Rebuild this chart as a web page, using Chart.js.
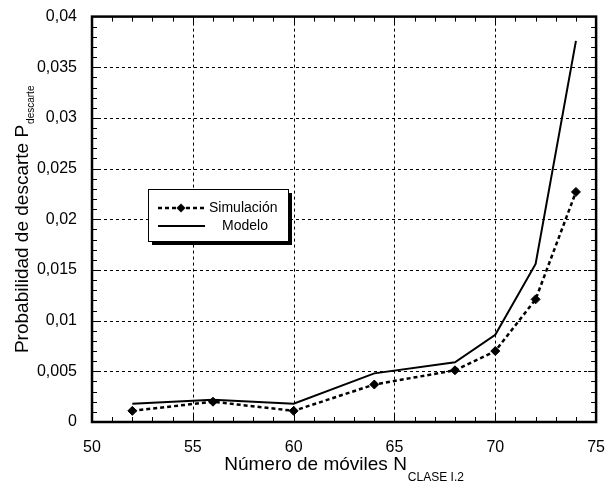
<!DOCTYPE html>
<html>
<head>
<meta charset="utf-8">
<script src="https://cdn.jsdelivr.net/npm/chart.js@4"></script>
<style>
  html, body { margin: 0; padding: 0; background: #fff; }
  #wrap { width: 613px; height: 485px; }
</style>
</head>
<body>
<div id="wrap"><canvas id="chart" width="613" height="485"></canvas></div>
<script>
const moviles = [52, 56, 60, 64, 68, 70, 72, 74];
const simulacion = [0.0011, 0.0020, 0.0011, 0.0037, 0.0051, 0.0070, 0.0121, 0.0227];
const modelo = [0.0018, 0.0022, 0.0018, 0.0048, 0.0059, 0.0086, 0.0156, 0.0376];
const seriesNames = ['Simulación', 'Modelo'];
const xTitle = ['Número de móviles N', 'CLASE I.2'];
const yTitle = ['Probabilidad de descarte P', 'descarte'];

const FONT = '"Liberation Sans", Arial, sans-serif';
const fmt = v => parseFloat(v.toFixed(3)).toString().replace('.', ',');

// frame, dashed grid and inward ticks on all four sides
const framePlugin = {
  id: 'frame',
  beforeDatasetsDraw(chart) {
    const { ctx, chartArea: a, scales: { x, y } } = chart;
    ctx.save();
    ctx.strokeStyle = '#000';
    ctx.lineWidth = 1;
    ctx.setLineDash([3, 3]);
    for (let v = 55; v < 75; v += 5) {
      const px = Math.round(x.getPixelForValue(v)) + 0.5;
      ctx.beginPath(); ctx.moveTo(px, a.top); ctx.lineTo(px, a.bottom); ctx.stroke();
    }
    for (let i = 1; i < 8; i++) {
      const py = Math.round(y.getPixelForValue(i * 0.005)) + 0.5;
      ctx.beginPath(); ctx.moveTo(a.left, py); ctx.lineTo(a.right, py); ctx.stroke();
    }
    ctx.setLineDash([]);
    ctx.lineWidth = 1;
    for (let v = 51; v < 75; v++) {
      const px = Math.round(x.getPixelForValue(v)) + 0.5;
      const len = v % 5 === 0 ? 8 : 5;
      ctx.beginPath();
      ctx.moveTo(px, a.bottom); ctx.lineTo(px, a.bottom - len);
      ctx.moveTo(px, a.top); ctx.lineTo(px, a.top + len);
      ctx.stroke();
    }
    for (let i = 1; i < 40; i++) {
      const py = Math.round(y.getPixelForValue(i * 0.001)) + 0.5;
      const len = i % 5 === 0 ? 8 : 5;
      ctx.beginPath();
      ctx.moveTo(a.left, py); ctx.lineTo(a.left + len, py);
      ctx.moveTo(a.right, py); ctx.lineTo(a.right - len, py);
      ctx.stroke();
    }
    ctx.restore();
  },
  afterDatasetsDraw(chart) {
    const { ctx, chartArea: a } = chart;
    ctx.save();
    ctx.strokeStyle = '#000';
    ctx.lineWidth = 2.5;
    ctx.strokeRect(a.left, a.top, a.right - a.left, a.bottom - a.top);
    ctx.restore();
  }
};

// axis titles with subscripts and the boxed legend
const textPlugin = {
  id: 'texts',
  afterDraw(chart) {
    const { ctx, chartArea: a } = chart;
    ctx.save();
    ctx.fillStyle = '#000';
    ctx.textBaseline = 'alphabetic';
    ctx.textAlign = 'left';

    // x title
    ctx.font = '19px ' + FONT;
    const w1 = ctx.measureText(xTitle[0]).width;
    ctx.font = '12px ' + FONT;
    const w2 = ctx.measureText(xTitle[1]).width;
    let sx = (a.left + a.right) / 2 - (w1 + w2 + 1) / 2;
    ctx.font = '19px ' + FONT;
    ctx.fillText(xTitle[0], sx, 470);
    ctx.font = '12px ' + FONT;
    ctx.fillText(xTitle[1], sx + w1 + 1, 481);

    // y title
    ctx.save();
    ctx.translate(28, (a.top + a.bottom) / 2);
    ctx.rotate(-Math.PI / 2);
    ctx.font = '19px ' + FONT;
    const h1 = ctx.measureText(yTitle[0]).width;
    ctx.font = '10px ' + FONT;
    const h2 = ctx.measureText(yTitle[1]).width;
    const sy = -(h1 + h2 + 1) / 2;
    ctx.font = '19px ' + FONT;
    ctx.fillText(yTitle[0], sy, 0);
    ctx.font = '10px ' + FONT;
    ctx.fillText(yTitle[1], sy + h1 + 1, 6);
    ctx.restore();

    // legend
    const lx = 148, ly = 189, lw = 140, lh = 52;
    ctx.fillStyle = '#000';
    ctx.fillRect(lx + 4, ly + 4, lw, lh);
    ctx.fillStyle = '#fff';
    ctx.fillRect(lx, ly, lw, lh);
    ctx.strokeStyle = '#000';
    ctx.lineWidth = 1;
    ctx.strokeRect(lx + 0.5, ly + 0.5, lw, lh);

    const rows = [ly + 19, ly + 37];
    ctx.lineWidth = 2.5;
    ctx.setLineDash([4, 3]);
    ctx.beginPath(); ctx.moveTo(158, rows[0]); ctx.lineTo(205, rows[0]); ctx.stroke();
    ctx.setLineDash([]);
    ctx.fillStyle = '#000';
    ctx.beginPath();
    ctx.moveTo(181, rows[0] - 4.5); ctx.lineTo(185.5, rows[0]);
    ctx.lineTo(181, rows[0] + 4.5); ctx.lineTo(176.5, rows[0]);
    ctx.closePath(); ctx.fill();
    ctx.lineWidth = 1.8;
    ctx.beginPath(); ctx.moveTo(158, rows[1]); ctx.lineTo(205, rows[1]); ctx.stroke();

    ctx.font = '14px ' + FONT;
    ctx.textBaseline = 'middle';
    ctx.fillText(seriesNames[0], 209, rows[0]);
    ctx.fillText(seriesNames[1], 222, rows[1]);
    ctx.restore();
  }
};

new Chart(document.getElementById('chart').getContext('2d'), {
  type: 'line',
  data: {
    datasets: [
      {
        label: seriesNames[0],
        data: moviles.map((m, i) => ({ x: m, y: simulacion[i] })),
        borderColor: '#000',
        backgroundColor: '#000',
        borderWidth: 2.5,
        borderDash: [4, 3],
        pointStyle: 'rectRot',
        pointRadius: 4.5,
        pointBorderWidth: 1,
        tension: 0,
        fill: false
      },
      {
        label: seriesNames[1],
        data: moviles.map((m, i) => ({ x: m, y: modelo[i] })),
        borderColor: '#000',
        borderWidth: 2,
        pointRadius: 0,
        tension: 0,
        fill: false
      }
    ]
  },
  options: {
    responsive: false,
    animation: false,
    layout: { padding: { left: 0, top: 16, right: 15, bottom: 0 } },
    plugins: {
      legend: { display: false },
      tooltip: { enabled: false }
    },
    scales: {
      x: {
        type: 'linear',
        min: 50,
        max: 75,
        grid: { display: false },
        border: { display: false },
        ticks: {
          stepSize: 5,
          padding: 8,
          color: '#000',
          maxRotation: 0,
          font: { family: FONT, size: 16 }
        },
        afterFit: s => { s.height = 63; }
      },
      y: {
        min: 0,
        max: 0.04,
        grid: { display: false },
        border: { display: false },
        ticks: {
          stepSize: 0.005,
          padding: 7,
          color: '#000',
          font: { family: FONT, size: 16 },
          callback: v => fmt(v)
        },
        afterFit: s => { s.width = 92; }
      }
    }
  },
  plugins: [framePlugin, textPlugin]
});
</script>
</body>
</html>
